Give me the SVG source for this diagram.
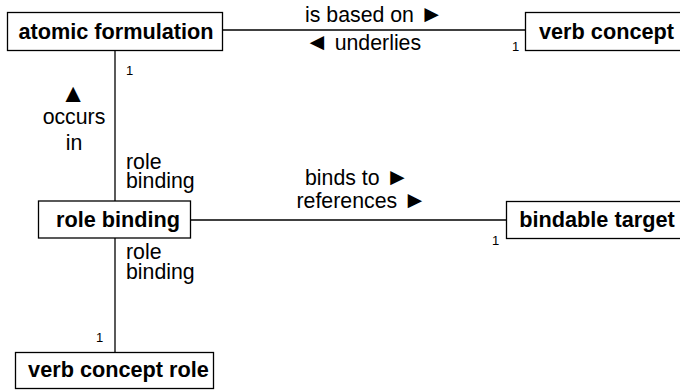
<svg xmlns="http://www.w3.org/2000/svg" width="680" height="390" viewBox="0 0 680 390">
<style>
  .box { fill: #ffffff; stroke: #000000; stroke-width: 1.3; }
  .conn { stroke: #000000; stroke-width: 1.3; fill: none; }
  .name { font-family: "Liberation Sans", Arial, sans-serif; font-weight: bold; font-size: 21.7px; fill: #000000; text-anchor: middle; }
  .lbl { font-family: "Liberation Sans", Arial, sans-serif; font-size: 21.3px; fill: #000000; }
  .tri { font-family: "Liberation Sans", "DejaVu Sans", sans-serif; font-size: 24px; }
  .tri2 { font-family: "Liberation Sans", "DejaVu Sans", sans-serif; font-size: 26px; }
  .mult { font-family: "Liberation Sans", Arial, sans-serif; font-size: 13px; fill: #000000; }
</style>
<rect width="680" height="390" fill="#ffffff"/>
<g id="connectors">
  <line class="conn" x1="222.5" y1="30" x2="525.5" y2="30"/>
  <line class="conn" x1="115" y1="50.5" x2="115" y2="201"/>
  <line class="conn" x1="190.5" y1="220" x2="506.5" y2="220"/>
  <line class="conn" x1="115" y1="238" x2="115" y2="352.5"/>
  <text class="lbl" x="305" y="21.5">is based on <tspan class="tri">►</tspan></text>
  <text class="lbl" x="305" y="50"><tspan class="tri">◄</tspan> underlies</text>
  <text class="mult" x="512" y="51">1</text>
  <text class="mult" x="126" y="75">1</text>
  <text class="lbl tri2" x="73" y="102" text-anchor="middle">▲</text>
  <text class="lbl" x="74" y="124" text-anchor="middle">occurs</text>
  <text class="lbl" x="74" y="150" text-anchor="middle">in</text>
  <text class="lbl" x="126" y="169">role</text>
  <text class="lbl" x="126" y="188">binding</text>
  <text class="lbl" x="305" y="185">binds to <tspan class="tri">►</tspan></text>
  <text class="lbl" x="296.5" y="207.5">references <tspan class="tri">►</tspan></text>
  <text class="mult" x="492" y="245">1</text>
  <text class="lbl" x="126" y="259">role</text>
  <text class="lbl" x="126" y="279">binding</text>
  <text class="mult" x="96" y="342">1</text>
</g>
<g id="atomic-formulation">
  <rect class="box" x="7.5" y="12.5" width="215" height="38"/>
  <text class="name" x="116" y="39">atomic formulation</text>
</g>
<g id="verb-concept">
  <rect class="box" x="525.5" y="12.5" width="170" height="38"/>
  <text class="name" x="606.5" y="39">verb concept</text>
</g>
<g id="role-binding">
  <rect class="box" x="38.5" y="201" width="152" height="37"/>
  <text class="name" x="118" y="226.5">role binding</text>
</g>
<g id="bindable-target">
  <rect class="box" x="506.5" y="201.5" width="180" height="37"/>
  <text class="name" x="597" y="226.5">bindable target</text>
</g>
<g id="verb-concept-role">
  <rect class="box" x="15.5" y="352.5" width="198" height="36"/>
  <text class="name" x="118.5" y="377">verb concept role</text>
</g>
</svg>
